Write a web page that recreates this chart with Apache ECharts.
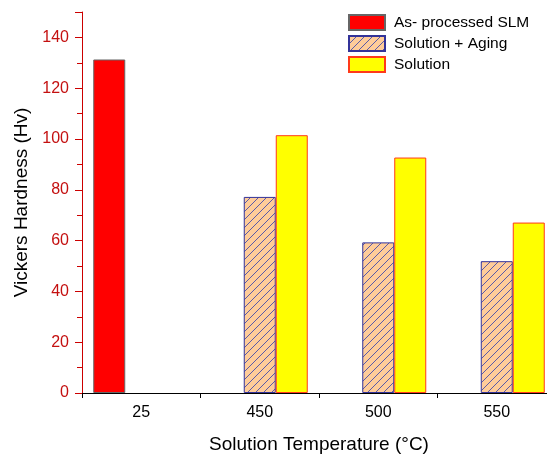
<!DOCTYPE html>
<html>
<head>
<meta charset="utf-8">
<script src="https://cdn.jsdelivr.net/npm/echarts@6/dist/echarts.min.js"></script>
<style>
  html, body { margin: 0; padding: 0; background: #fff; }
  #chart { width: 547px; height: 455px; }
</style>
</head>
<body>
<div id="chart"></div>
<script>
// categories and values
const categories = ['25', '450', '500', '550']
const asProcessed = [131.3, null, null, null]
const solutionAging = [null, 77.2, 59.3, 51.9]
const solution = [null, 101.5, 92.7, 67.1]

// diagonal hatch for the solution + aging bars
function hatch () {
  const c = document.createElement('canvas')
  c.width = 8
  c.height = 8
  const ctx = c.getContext('2d')
  ctx.fillStyle = '#FFCC99'
  ctx.fillRect(0, 0, 8, 8)
  ctx.strokeStyle = '#5a5aa8'
  ctx.lineWidth = 1
  ctx.beginPath()
  ctx.moveTo(0, 8); ctx.lineTo(8, 0)
  ctx.moveTo(-1, 1); ctx.lineTo(1, -1)
  ctx.moveTo(7, 9); ctx.lineTo(9, 7)
  ctx.stroke()
  return c
}

const font = 'Liberation Sans'
const myChart = echarts.init(document.getElementById('chart'))
myChart.setOption({
  animation: false,
  // plot runs past the right edge, as in the cropped original
  grid: { left: 82, top: 12, width: 474, bottom: 62, outerBoundsMode: 'none' },
  legend: {
    orient: 'vertical',
    left: 348,
    top: 14,
    padding: 0,
    icon: 'rect',
    itemWidth: 36,
    itemHeight: 15,
    itemGap: 4,
    textStyle: { fontFamily: font, fontSize: 15.5, lineHeight: 15, color: '#000', padding: [0, 0, 0, 4] },
    data: ['As- processed SLM', 'Solution + Aging', 'Solution']
  },
  xAxis: [
    {
      type: 'category',
      data: categories,
      name: 'Solution Temperature (°C)',
      nameLocation: 'middle',
      nameGap: 42,
      nameTextStyle: { fontFamily: font, fontSize: 19, color: '#000' },
      axisLine: { lineStyle: { color: '#000', width: 1 } },
      axisTick: { alignWithLabel: true, length: 5, lineStyle: { color: '#000' } },
      axisLabel: { fontFamily: font, fontSize: 16, color: '#000', margin: 12 }
    },
    {
      type: 'category',
      data: categories,
      position: 'bottom',
      axisLine: { show: false },
      axisTick: { show: true, length: 5, lineStyle: { color: '#000' } },
      axisLabel: { show: false }
    }
  ],
  yAxis: {
    type: 'value',
    min: 0,
    max: 150,
    interval: 20,
    name: 'Vickers Hardness (Hv)',
    nameLocation: 'middle',
    nameGap: 48,
    nameTextStyle: { fontFamily: font, fontSize: 19, color: '#000' },
    axisLine: { show: true, lineStyle: { color: '#cc0000', width: 1 } },
    axisTick: { show: true, length: 7, lineStyle: { color: '#cc0000' } },
    minorTick: { show: true, splitNumber: 2, length: 5, lineStyle: { color: '#cc0000' } },
    splitLine: { show: false },
    axisLabel: { fontFamily: font, fontSize: 16, color: '#c41010', margin: 13, showMaxLabel: false }
  },
  series: [
    {
      name: 'As- processed SLM',
      type: 'bar',
      barWidth: 32,
      barGap: '0%',
      data: asProcessed,
      itemStyle: { color: '#ff0000', borderColor: '#666', borderWidth: 1 }
    },
    {
      name: 'Solution + Aging',
      type: 'bar',
      barWidth: 32,
      barGap: '0%',
      data: solutionAging,
      itemStyle: { color: { image: hatch(), repeat: 'repeat' }, borderColor: '#333399', borderWidth: 1 }
    },
    {
      name: 'Solution',
      type: 'bar',
      barWidth: 32,
      barGap: '0%',
      data: solution,
      itemStyle: { color: '#ffff00', borderColor: '#ff3a1a', borderWidth: 1 }
    }
  ]
})
</script>
</body>
</html>
